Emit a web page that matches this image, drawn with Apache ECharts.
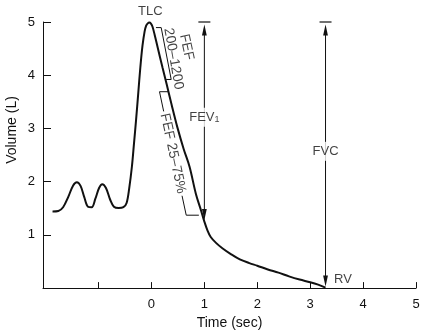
<!DOCTYPE html>
<html>
<head>
<meta charset="utf-8">
<script src="https://cdn.jsdelivr.net/npm/echarts@6/dist/echarts.min.js"></script>
<style>
  html, body { margin: 0; padding: 0; background: #fff; }
  #chart { width: 425px; height: 335px; }
</style>
</head>
<body>
<div id="chart"></div>
<script>
// Forced expiratory spirogram: volume (L) against time (s)
const curveTime = [
  -1.87, -1.76, -1.67, -1.57, -1.48, -1.41, -1.34, -1.27, -1.20, -1.13,
  -1.06, -0.99, -0.93, -0.86, -0.78, -0.71, -0.62, -0.53, -0.47, -0.42,
  -0.37, -0.33, -0.29, -0.25, -0.21, -0.17, -0.13, -0.10, -0.07, -0.04,
  -0.01, 0.02, 0.06,
  0.12, 0.21, 0.29, 0.38, 0.49, 0.61, 0.72, 0.84, 0.94, 1.00,
  1.06, 1.12, 1.22, 1.34, 1.50, 1.67, 1.85, 2.00, 2.20, 2.40,
  2.60, 2.80, 3.00, 3.15, 3.29
];
const curveVolume = [
  1.44, 1.45, 1.52, 1.72, 1.93, 1.99, 1.92, 1.71, 1.53, 1.52,
  1.68, 1.88, 1.95, 1.88, 1.66, 1.53, 1.505, 1.52, 1.60, 1.88,
  2.28, 2.72, 3.17, 3.66, 4.15, 4.55, 4.82, 4.93, 4.975, 4.99,
  4.97, 4.91, 4.76,
  4.51, 4.14, 3.82, 3.45, 3.02, 2.61, 2.28, 1.77, 1.45, 1.25,
  1.08, 0.96, 0.85, 0.75, 0.64, 0.54, 0.47, 0.42, 0.35, 0.29,
  0.22, 0.16, 0.11, 0.065, 0.01
];

// Axis ticks
const timeTicks = [-1, 0, 1, 2, 3, 4, 5];
const timeLabels = [0, 1, 2, 3, 4, 5];
const volumeTicks = [1, 2, 3, 4, 5];

// Bracket outlines (time, volume) for FEF 200–1200 and FEF 25–75%
const bracketFef200 = [[0.085, 4.895], [0.184, 4.895], [0.373, 3.92], [0.278, 3.92]];
const bracketFef25Top = [[0.328, 3.69], [0.152, 3.69], [0.231, 3.32]];
const bracketFef25Bottom = [[0.578, 1.735], [0.657, 1.37], [0.896, 1.37]];

// Double-headed measurement arrows: time, upper volume, lower volume
const arrowTime = [1.0, 3.29];
const arrowTop = [5, 5];
const arrowBottom = [1.28, 0.03];

// Annotation texts
const noteText = ['TLC', 'FEF', '200–1200', 'FEF 25–75%', 'FEV{s|1}', 'FVC', 'RV'];
const noteTime = [-0.02, 0.663, 0.417, 0.405, 1.0, 3.29, 3.45];
const noteVolume = [5.205, 4.53, 4.31, 2.53, 3.21, 2.57, 0.17];
const noteAngle = [0, -78, -80, -78, 0, 0, 0];

const FONT = '"Liberation Sans", Arial, Helvetica, sans-serif';
const INK = '#111';

const chart = echarts.init(document.getElementById('chart'), null, { renderer: 'canvas' });

const bracketSeries = [bracketFef200, bracketFef25Top, bracketFef25Bottom].map(pts => ({
  type: 'line',
  data: pts,
  symbol: 'none',
  silent: true,
  lineStyle: { color: INK, width: 1 },
  z: 3
}));

const noteData = noteText.map((txt, i) => {
  const boxed = txt.startsWith('FEV') || txt === 'FVC';
  const left = txt === 'RV';
  const rotated = noteAngle[i] !== 0;
  return {
    value: [noteTime[i], noteVolume[i]],
    label: {
      show: true,
      position: 'inside',
      formatter: txt,
      rotate: noteAngle[i],
      align: left ? 'left' : 'center',
      verticalAlign: 'middle',
      fontSize: rotated ? 14 : 13,
      backgroundColor: boxed ? '#fff' : 'transparent',
      padding: boxed ? [3, 1] : 0,
      rich: { s: { fontSize: 9, verticalAlign: 'bottom', lineHeight: 10, fontFamily: FONT, color: INK } }
    }
  };
});

chart.setOption({
  animation: false,
  backgroundColor: '#fff',
  textStyle: { fontFamily: FONT, color: INK },
  grid: { left: 43, right: 9, top: 22, bottom: 45, containLabel: false },
  xAxis: {
    type: 'value',
    min: -2.05,
    max: 5,
    name: 'Time (sec)',
    nameLocation: 'middle',
    nameGap: 25,
    nameTextStyle: { fontSize: 14, color: INK, fontFamily: FONT },
    splitLine: { show: false },
    axisLine: { onZero: false, lineStyle: { color: INK, width: 1 } },
    axisTick: { inside: true, length: 6, customValues: timeTicks, lineStyle: { color: INK, width: 1 } },
    axisLabel: { customValues: timeLabels, margin: 10, fontSize: 13, color: INK, fontFamily: FONT }
  },
  yAxis: {
    type: 'value',
    min: 0,
    max: 5,
    splitLine: { show: false },
    axisLine: { show: true, onZero: false, lineStyle: { color: INK, width: 1 } },
    axisTick: { show: true, inside: true, length: 8, customValues: volumeTicks, lineStyle: { color: INK, width: 1 } },
    axisLabel: { customValues: volumeTicks, margin: 8, fontSize: 13, color: INK, fontFamily: FONT }
  },
  graphic: [{
    type: 'text',
    x: 12,
    y: 130,
    rotation: Math.PI / 2,
    style: {
      text: 'Volume (L)',
      font: '14px ' + FONT,
      fill: INK,
      align: 'center',
      verticalAlign: 'middle',
      textAlign: 'center',
      textVerticalAlign: 'middle'
    }
  }],
  series: [
    {
      type: 'line',
      data: curveTime.map((t, i) => [t, curveVolume[i]]),
      smooth: 0.35,
      symbol: 'none',
      silent: true,
      lineStyle: { color: INK, width: 2 },
      z: 4
    },
    ...bracketSeries,
    {
      type: 'custom',
      clip: false,
      silent: true,
      data: arrowTime.map((t, i) => [t, arrowTop[i], arrowBottom[i]]),
      renderItem: function (params, api) {
        const top = api.coord([api.value(0), api.value(1)]);
        const bot = api.coord([api.value(0), api.value(2)]);
        const x = top[0];
        const headLen = 11, headHalf = 2.4;
        const tipTop = top[1] + 2.5;
        const tipBot = bot[1];
        return {
          type: 'group',
          children: [
            { type: 'line', shape: { x1: x - 6, y1: top[1], x2: x + 6, y2: top[1] }, style: { stroke: INK, lineWidth: 1.2 } },
            { type: 'line', shape: { x1: x, y1: tipTop + 4, x2: x, y2: tipBot - 4 }, style: { stroke: INK, lineWidth: 1 } },
            { type: 'polygon', shape: { points: [[x, tipTop], [x - headHalf, tipTop + headLen], [x + headHalf, tipTop + headLen]] }, style: { fill: INK } },
            { type: 'polygon', shape: { points: [[x, tipBot], [x - headHalf, tipBot - headLen], [x + headHalf, tipBot - headLen]] }, style: { fill: INK } }
          ]
        };
      },
      z: 5
    },
    {
      type: 'scatter',
      data: noteData,
      symbolSize: 0,
      clip: false,
      silent: true,
      label: { color: INK, fontFamily: FONT },
      z: 10
    }
  ]
});
</script>
</body>
</html>
